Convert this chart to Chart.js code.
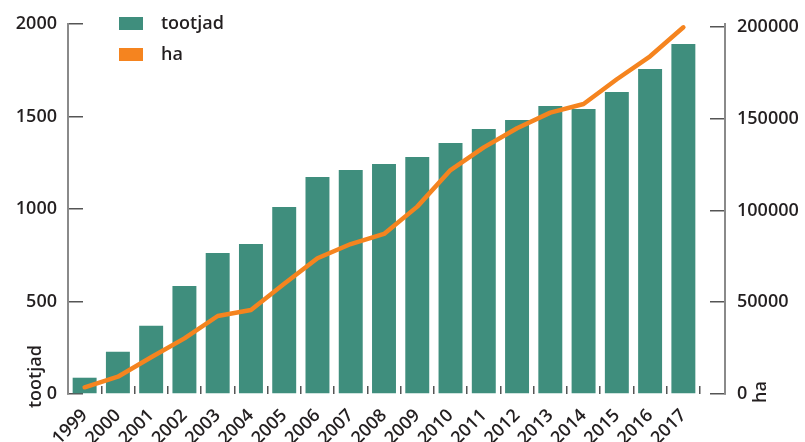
<!DOCTYPE html>
<html>
<head>
<meta charset="utf-8">
<script src="https://cdn.jsdelivr.net/npm/chart.js@4.4.0/dist/chart.umd.min.js"></script>
<style>
html,body{margin:0;padding:0;background:#ffffff;}
#wrap{width:805px;height:442px;position:relative;}
</style>
</head>
<body>
<div id="wrap"><canvas id="c"></canvas></div>
<script>
// ---- data ----
const years = ['1999','2000','2001','2002','2003','2004','2005','2006','2007','2008','2009','2010','2011','2012','2013','2014','2015','2016','2017'];
const producers = [88, 229, 369, 584, 762, 811, 1011, 1173, 1211, 1243, 1281, 1357, 1432, 1481, 1557, 1541, 1632, 1757, 1892];
const hectares = [3650, 9430, 20000, 30300, 42500, 45800, 60100, 73950, 81700, 87200, 102100, 122000, 134400, 144800, 153300, 158000, 171500, 184000, 199800];
const seriesLabels = ['tootjad', 'ha'];
const axisTitles = ['tootjad', 'ha'];
const leftTicks = [0, 500, 1000, 1500, 2000];
const rightTicks = [0, 50000, 100000, 150000, 200000];

// ---- styles ----
const TEAL = '#3f8e7d';
const ORANGE = '#f5841f';
const TEXT = '#231f20';
const AXIS = '#8a8a8a';
const TICK = '#555555';
const FONT = {family: "'Open Sans', sans-serif", size: 18, weight: '600', lineHeight: 1.2};
const seriesColors = [TEAL, ORANGE];

function yFit(w) {
  return s => { s.width = w; s.paddingTop = 0; s.paddingBottom = 0; };
}

const legendPlace = {
  id: 'legendPlace',
  afterLayout(chart) {
    const L = chart.legend;
    if (!L) return;
    const w = L.width, h = L.height;
    const left = chart.chartArea.left + 38;
    const top = chart.chartArea.top - 22.5;
    L.left = left; L.right = left + w;
    L.top = top; L.bottom = top + h;
  }
};

new Chart(document.getElementById('c'), {
  data: {
    labels: years,
    datasets: [
      {
        type: 'bar', label: seriesLabels[0], data: producers,
        backgroundColor: TEAL, yAxisID: 'y', order: 2,
        barPercentage: 0.72, categoryPercentage: 1.0
      },
      {
        type: 'line', label: seriesLabels[1], data: hectares,
        borderColor: ORANGE, backgroundColor: ORANGE, borderWidth: 4.5,
        pointRadius: 0, pointHoverRadius: 0, tension: 0, yAxisID: 'y1', order: 1,
        borderCapStyle: 'round', borderJoinStyle: 'round', fill: false
      }
    ]
  },
  plugins: [legendPlace],
  options: {
    responsive: true,
    maintainAspectRatio: false,
    animation: false,
    devicePixelRatio: 1,
    layout: {padding: {top: 24, left: 0, right: 0, bottom: 0}},
    plugins: {
      legend: {
        position: 'chartArea', align: 'start',
        labels: {
          boxWidth: 24, boxHeight: 13, padding: 13, font: FONT, color: TEXT,
          sort: (a, b) => a.datasetIndex - b.datasetIndex,
          generateLabels: chart => Chart.defaults.plugins.legend.labels.generateLabels(chart).map(l => Object.assign(l, {
            text: '\u2002' + l.text, lineWidth: 0, fillStyle: seriesColors[l.datasetIndex], strokeStyle: 'rgba(0,0,0,0)'
          }))
        }
      },
      tooltip: {enabled: false},
      title: {display: false}
    },
    scales: {
      x: {
        type: 'category', offset: true,
        grid: {display: true, drawOnChartArea: false, offset: true, tickLength: -8, color: TICK, lineWidth: 1.5},
        border: {display: false},
        ticks: {minRotation: 45, maxRotation: 45, padding: 19, font: FONT, color: TEXT, autoSkip: false},
        afterFit: s => { s.height = 48; s.paddingLeft = 0; s.paddingRight = 0; }
      },
      yT: {
        type: 'linear', position: 'left', weight: 2, display: true, min: 0, max: 1,
        grid: {display: false, drawTicks: false}, border: {display: false},
        ticks: {mirror: true, crossAlign: 'near', minRotation: 90, maxRotation: 90, padding: 36, labelOffset: 14, font: FONT, color: TEXT, callback: () => axisTitles[0]},
        afterBuildTicks: s => { s.ticks = [{value: 0}]; },
        afterFit: yFit(0)
      },
      y: {
        type: 'linear', position: 'left', weight: 1, min: 0, max: 2000,
        grid: {drawOnChartArea: false, tickLength: -15, color: TICK, lineWidth: 1.5},
        border: {display: true, color: AXIS, width: 2},
        ticks: {padding: 26, font: FONT, color: TEXT, callback: v => String(v)},
        afterBuildTicks: s => { s.ticks = leftTicks.map(v => ({value: v})); },
        afterFit: yFit(68)
      },
      yG: {
        type: 'linear', position: 'right', weight: 0, display: true, min: 0, max: 1,
        grid: {display: false, drawTicks: false}, border: {display: false},
        ticks: {display: false},
        afterFit: yFit(25)
      },
      y1: {
        type: 'linear', position: 'right', weight: 1, min: 0, max: 201600,
        grid: {drawOnChartArea: false, tickLength: -15, color: TICK, lineWidth: 1.5},
        border: {display: true, color: AXIS, width: 2},
        ticks: {padding: 27, font: FONT, color: TEXT, callback: v => String(v)},
        afterBuildTicks: s => { s.ticks = rightTicks.map(v => ({value: v})); },
        afterFit: yFit(80)
      },
      yH: {
        type: 'linear', position: 'right', weight: 2, display: true, min: 0, max: 1,
        grid: {display: false, drawTicks: false}, border: {display: false},
        ticks: {mirror: true, crossAlign: 'far', minRotation: 90, maxRotation: 90, padding: -22, labelOffset: 9, font: FONT, color: TEXT, callback: () => axisTitles[1]},
        afterBuildTicks: s => { s.ticks = [{value: 0}]; },
        afterFit: yFit(0)
      }
    }
  }
});
</script>
</body>
</html>
